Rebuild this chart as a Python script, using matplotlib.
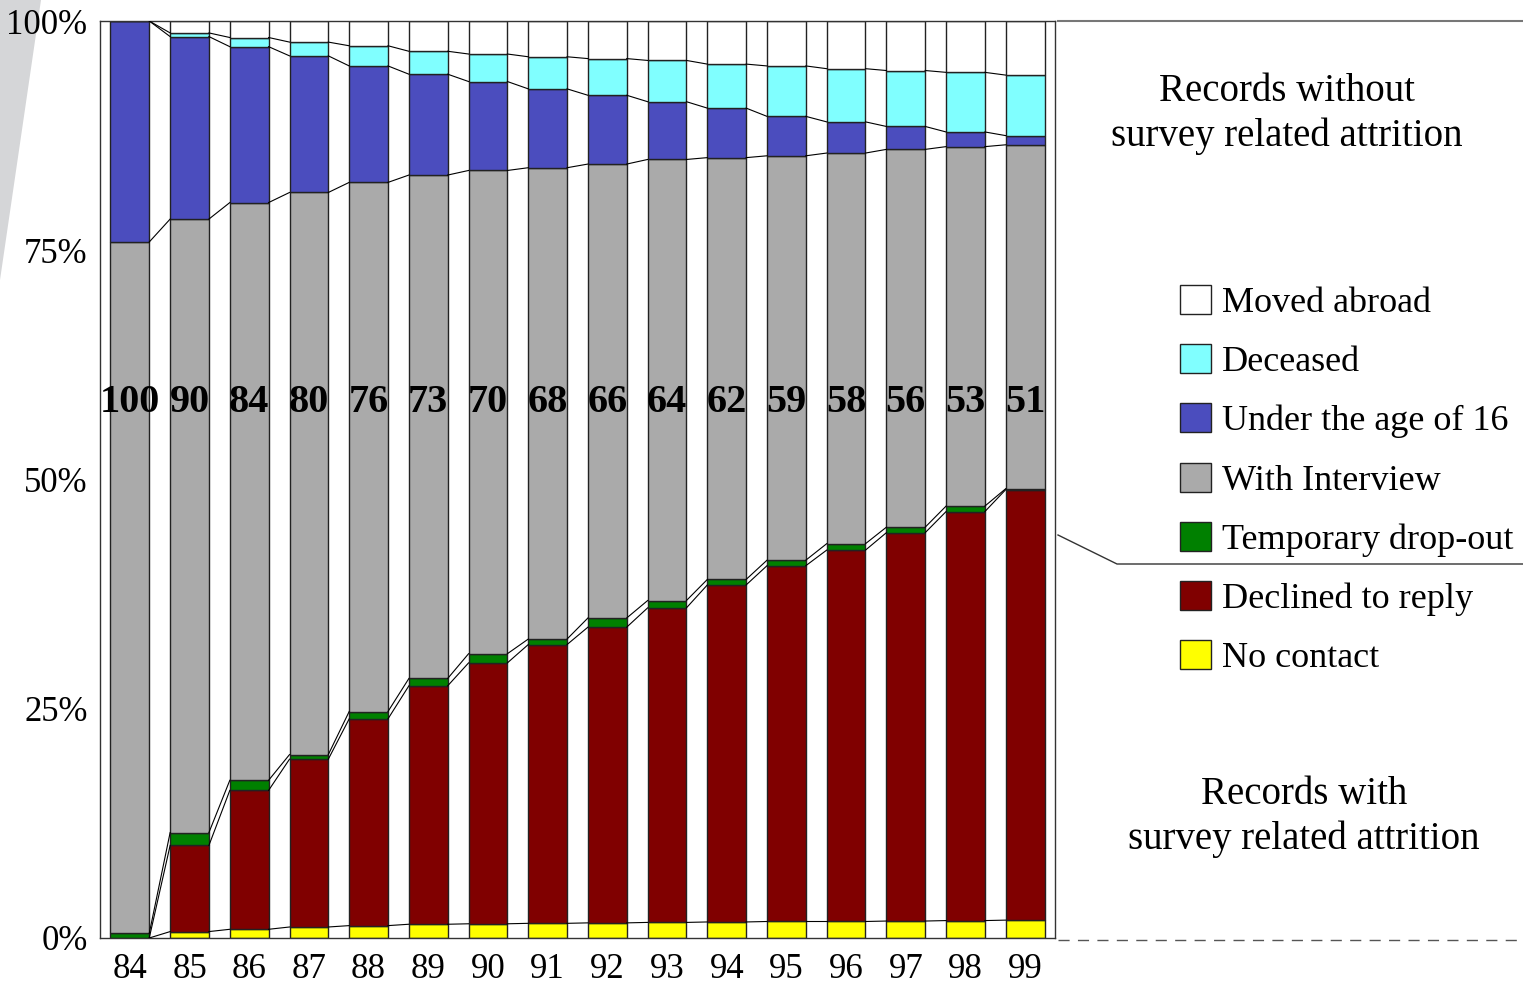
import matplotlib
matplotlib.use("Agg")
import matplotlib.pyplot as plt
import numpy as np
from matplotlib.patches import Polygon
from matplotlib.lines import Line2D

plt.rcParams['font.family'] = ['Liberation Serif', 'DejaVu Serif']

# survey waves 1984-1999, shares in percent
years = ['84', '85', '86', '87', '88', '89', '90', '91', '92', '93', '94', '95', '96', '97', '98', '99']
no_contact = [0, 0.7, 0.95, 1.2, 1.35, 1.5, 1.55, 1.6, 1.65, 1.7, 1.75, 1.8, 1.8, 1.85, 1.9, 1.95]
declined = [0, 9.4, 15.15, 18.3, 22.55, 26.0, 28.45, 30.4, 32.25, 34.3, 36.75, 38.8, 40.5, 42.35, 44.6, 46.95]
temp_dropout = [0.5, 1.4, 1.1, 0.5, 0.8, 0.8, 1.0, 0.6, 1.0, 0.8, 0.6, 0.6, 0.7, 0.6, 0.6, 0.1]
interview = [75.4, 66.9, 63.0, 61.3, 57.7, 54.9, 52.7, 51.4, 49.5, 48.1, 46.0, 44.1, 42.6, 41.2, 39.2, 37.5]
under16 = [24.1, 19.9, 17.0, 14.9, 12.7, 11.0, 9.7, 8.6, 7.5, 6.3, 5.4, 4.3, 3.4, 2.5, 1.6, 1.0]
deceased = [0, 0.4, 1.0, 1.5, 2.2, 2.5, 3.0, 3.5, 4.0, 4.5, 4.8, 5.5, 5.8, 6.1, 6.5, 6.6]
moved_abroad = [0, 1.3, 1.8, 2.3, 2.7, 3.3, 3.6, 3.9, 4.1, 4.3, 4.7, 4.9, 5.2, 5.4, 5.6, 5.9]
sample_labels = ['100', '90', '84', '80', '76', '73', '70', '68', '66', '64', '62', '59', '58', '56', '53', '51']

series = [
    ("No contact", no_contact, "#ffff00"),
    ("Declined to reply", declined, "#800000"),
    ("Temporary drop-out", temp_dropout, "#008000"),
    ("With Interview", interview, "#aaaaaa"),
    ("Under the age of 16", under16, "#4b4dbe"),
    ("Deceased", deceased, "#80ffff"),
    ("Moved abroad", moved_abroad, "#ffffff"),
]

fig = plt.figure(figsize=(15.23, 9.84), dpi=100)
ax = fig.add_axes([100 / 1523, 46 / 984, 955 / 1523, 917 / 984])

x = np.arange(len(years))
w = 0.65
bottom = np.zeros(len(years))
handles = []
tops = []
for name, vals, col in series:
    b = ax.bar(x, vals, w, bottom=bottom, color=col, edgecolor='#222222',
               linewidth=1.0, label=name, zorder=2)
    handles.append(b)
    bottom = bottom + np.array(vals)
    tops.append(bottom.copy())

# connector lines between neighbouring bars
for cum in tops[:-1]:
    for i in range(len(years) - 1):
        ax.plot([x[i] + w / 2, x[i + 1] - w / 2], [cum[i], cum[i + 1]],
                color='black', lw=0.8, zorder=3)

for i, lab in enumerate(sample_labels):
    ax.text(x[i], 58.4, lab, ha='center', va='center', fontsize=29,
            fontweight='bold', zorder=4)

ax.set_xlim(-0.5, len(years) - 0.5)
ax.set_ylim(0, 100)
ax.set_xticks(x)
ax.set_xticklabels(years)
ax.set_yticks([0, 25, 50, 75, 100])
ax.set_yticklabels(['0%', '25%', '50%', '75%', '100%'])
ax.tick_params(length=0, labelsize=25)
ax.tick_params(axis='x', pad=11)
ax.tick_params(axis='y', pad=9)
for s in ax.spines.values():
    s.set_color('#333333')
    s.set_linewidth(1.0)

# right-hand annotation panel
def px(xp, yp):
    return xp / 1523, 1 - yp / 984

fig.add_artist(Line2D(*zip(px(1058, 21), px(1523, 21)), color='#777777', lw=1.5))
fig.add_artist(Line2D(*zip(px(1058, 535), px(1117, 564), px(1523, 564)), color='#333333', lw=1))
fig.add_artist(Line2D(*zip(px(1058, 940), px(1523, 940)), color='#555555', lw=1,
                      linestyle=(0, (8, 6))))

fig.text(*px(1287, 114), "Records without\nsurvey related attrition", ha='center',
         va='center', fontsize=28, linespacing=1.25)
fig.text(*px(1304, 817), "Records with\nsurvey related attrition", ha='center',
         va='center', fontsize=28, linespacing=1.25)

fig.legend(handles=handles[::-1], loc='upper left', bbox_to_anchor=px(1180, 285),
           frameon=False, fontsize=26, handlelength=0.86, handleheight=0.86,
           handletextpad=0.3, labelspacing=0.67, borderpad=0, borderaxespad=0)

# grey wedge in the top left corner
fig.add_artist(Polygon([px(0, 0), px(41, 0), px(0, 280)], closed=True,
                       facecolor='#d5d6d8', edgecolor='none', zorder=-1))

fig.savefig('out.png', dpi=100)
